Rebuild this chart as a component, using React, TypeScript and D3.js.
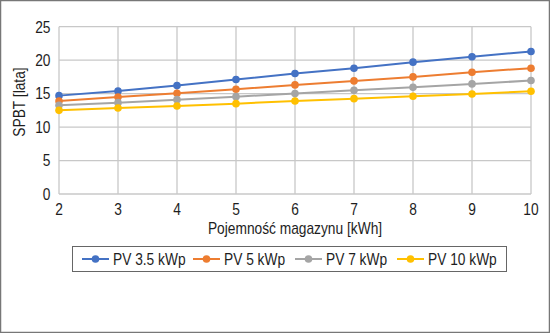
import React from "react";
import * as d3 from "d3";

const capacities = [2, 3, 4, 5, 6, 7, 8, 9, 10];
const seriesNames = ["PV 3.5 kWp", "PV 5 kWp", "PV 7 kWp", "PV 10 kWp"];
const seriesColors = ["#4472C4", "#ED7D31", "#A5A5A5", "#FFC000"];
const pv35 = [14.7, 15.4, 16.2, 17.1, 18.0, 18.8, 19.7, 20.5, 21.3];
const pv5 = [13.9, 14.5, 15.05, 15.65, 16.3, 16.9, 17.5, 18.2, 18.8];
const pv7 = [13.25, 13.65, 14.1, 14.55, 15.0, 15.5, 15.95, 16.45, 16.95];
const pv10 = [12.5, 12.85, 13.15, 13.5, 13.9, 14.25, 14.6, 14.95, 15.35];
const yTicks = [0, 5, 10, 15, 20, 25];
const xTitle = "Pojemność magazynu [kWh]";
const yTitle = "SPBT [lata]";

const W = 550;
const H = 333;
const FONT = "'Liberation Sans', Arial, sans-serif";
const FS = 16;
const SX = 0.86; // horizontal squeeze for a narrow look

type TProps = {
  x: number;
  y: number;
  anchor?: "start" | "middle" | "end";
  rotate?: number;
  children: React.ReactNode;
};

function T({ x, y, anchor = "start", rotate = 0, children }: TProps) {
  return (
    <text
      transform={`translate(${x},${y}) rotate(${rotate}) scale(${SX},1)`}
      textAnchor={anchor}
      fontSize={FS}
      fill="#1e1e1e"
    >
      {children}
    </text>
  );
}

export default function App() {
  const x = d3.scaleLinear().domain([2, 10]).range([59, 531]);
  const y = d3.scaleLinear().domain([0, 25]).range([194, 26.7]);
  const allSeries = [pv35, pv5, pv7, pv10];
  const line = d3
    .line<number>()
    .x((_, i) => x(capacities[i]))
    .y((d) => y(d));

  // legend layout
  const legendX = 72;
  const legendY = 246;
  const legendW = 434;
  const legendH = 25;
  const itemX = [82, 193, 295, 397];

  return (
    <svg
      width={W}
      height={H}
      style={{ position: "absolute", left: 0, top: 0, background: "#fff" }}
      fontFamily={FONT}
    >
      <rect x={0.5} y={0.5} width={W - 1} height={H - 1} fill="#fff" stroke="#777" strokeWidth={1.5} />
      {/* grid */}
      <g stroke="#c8c8c8" strokeWidth={1.3}>
        {yTicks.map((t) => (
          <line key={"h" + t} x1={x(2)} x2={x(10)} y1={y(t)} y2={y(t)} />
        ))}
        {capacities.map((c) => (
          <line key={"v" + c} x1={x(c)} x2={x(c)} y1={y(0)} y2={y(25)} />
        ))}
      </g>
      {/* y tick labels */}
      {yTicks.map((t) => (
        <T key={t} x={50.5} y={y(t) + 5.8} anchor="end">
          {t}
        </T>
      ))}
      {/* x tick labels */}
      {capacities.map((c) => (
        <T key={c} x={x(c)} y={215} anchor="middle">
          {c}
        </T>
      ))}
      <T x={295} y={234} anchor="middle">
        {xTitle}
      </T>
      <T x={25} y={102} anchor="middle" rotate={-90}>
        {yTitle}
      </T>
      {/* series */}
      {allSeries.map((s, k) => (
        <g key={k}>
          <path d={line(s) || ""} fill="none" stroke={seriesColors[k]} strokeWidth={2} />
          {s.map((v, i) => (
            <circle key={i} cx={x(capacities[i])} cy={y(v)} r={3.8} fill={seriesColors[k]} />
          ))}
        </g>
      ))}
      {/* legend */}
      <rect x={legendX + 0.5} y={legendY + 0.5} width={legendW} height={legendH} fill="#fff" stroke="#666" strokeWidth={1} />
      {seriesNames.map((n, k) => (
        <g key={n}>
          <line
            x1={itemX[k]}
            x2={itemX[k] + 27}
            y1={legendY + legendH / 2 + 0.5}
            y2={legendY + legendH / 2 + 0.5}
            stroke={seriesColors[k]}
            strokeWidth={2}
          />
          <circle cx={itemX[k] + 13.5} cy={legendY + legendH / 2 + 0.5} r={3.8} fill={seriesColors[k]} />
          <T x={itemX[k] + 31} y={legendY + 18.5}>
            {n}
          </T>
        </g>
      ))}
    </svg>
  );
}
